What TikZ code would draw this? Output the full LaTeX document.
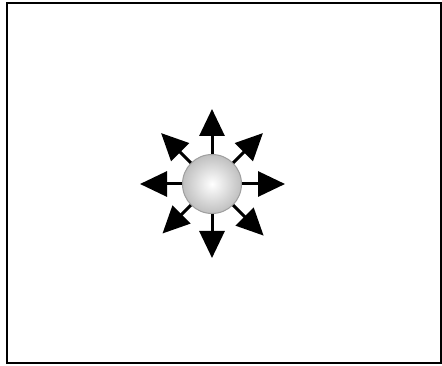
\documentclass[tikz,border=0pt]{standalone}
\usetikzlibrary{arrows.meta,calc}
\begin{document}
\begin{tikzpicture}[x=1pt,y=-1pt,
  frame/.style={draw=black,line width=2.2pt},
  ray/.style={line width=3pt,-{Triangle[length=27pt,width=25pt]}},
  ball/.style={circle,minimum size=59pt,inner sep=0pt,draw=gray!75,line width=1pt,inner color=white,outer color=gray!50}]
\useasboundingbox (0,0) rectangle (442,366);
\draw[frame] (7,3) rectangle (441,363);
\node[ball] (s) at (212,184) {};
\foreach \a/\r in {0/73,45/73,90/74,135/70,180/72,225/72,270/75,315/72}{
  \coordinate (t\a) at ($(s.center)+(\a:\r)$);
  \draw[ray] (s) -- (t\a);
}
\end{tikzpicture}
\end{document}
